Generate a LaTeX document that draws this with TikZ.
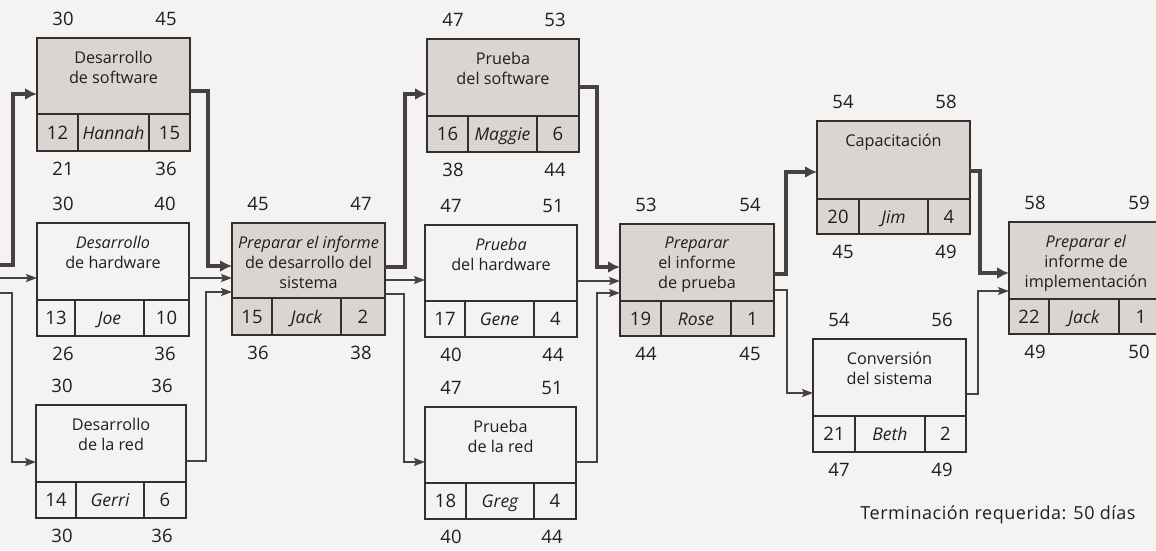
\documentclass[tikz,border=0pt]{standalone}
\usepackage{fontspec}
\setmainfont{Open Sans}
\usetikzlibrary{arrows.meta,calc}

\definecolor{paper}{HTML}{F4F3F1}
\definecolor{ink}{HTML}{221E1E}
\definecolor{framecol}{HTML}{332F2F}
\definecolor{critfill}{HTML}{D8D5D3}
\definecolor{wire}{HTML}{474242}

\tikzset{
  task/.style={draw=framecol, line width=2.6pt, inner sep=0pt, outer sep=0pt, rectangle},
  cellrule/.style={draw=framecol, line width=1.5pt},
  txt/.style={inner sep=0pt, text=ink, font=\fontsize{18.5}{20}\selectfont},
  num/.style={txt, text height=13pt, text depth=0pt},
  title/.style={txt, font=\fontsize{16.2}{20}\selectfont, align=center, anchor=north},
  who/.style={num, font=\fontsize{17.5}{20}\selectfont\itshape},
  critline/.style={draw=wire, line width=4pt, -{Latex[length=12pt,width=12pt]}},
  flowline/.style={draw=wire, line width=1.8pt, -{Stealth[length=11pt,width=8pt,inset=2pt]}},
}

% frame of an activity box: name, left, top, right, bottom, cell row top, two cell dividers, fill
\newcommand\taskframe[9]{%
  \node[task, fill=#9, minimum width={(#4-#2)*1pt}, minimum height={(#5-#3)*1pt}] (#1) at ({(#2+#4)/2},{(#3+#5)/2}) {};
  \coordinate (#1-rw) at (#2,#6);
  \coordinate (#1-re) at (#4,#6);
  \coordinate (#1-ca) at (#7,#6);
  \coordinate (#1-cb) at (#8,#6);
  \draw[cellrule] (#1-rw) -- (#1-re);
  \draw[cellrule] (#1-ca) -- (#1-ca |- #1.south);
  \draw[cellrule] (#1-cb) -- (#1-cb |- #1.south);
}
% activity name inside the upper part of a box
\newcommand\tasktitle[2]{%
  \node[title] (#1-name) at ($(#1.north)+(0,12.5)$) {#2};
}
% number, person in charge and duration in the lower cells
\newcommand\taskcells[4]{%
  \node[num] (#1-id) at ($(#1-rw)!0.5!(#1-ca |- #1.south)$) {#2};
  \node[who] (#1-who) at ($(#1-ca)!0.5!(#1-cb |- #1.south)$) {#3};
  \node[num] (#1-dur) at ($(#1-cb)!0.5!(#1.south east)$) {#4};
}
% early start/finish above the box, late start/finish below it
\newcommand\tasktimes[5]{%
  \node[num] (#1-es) at ($(#1.north west)+(26,-19)$) {#2};
  \node[num] (#1-ef) at ($(#1.north east)+(-24,-19)$) {#3};
  \node[num] (#1-ls) at ($(#1.south west)+(26,18)$) {#4};
  \node[num] (#1-lf) at ($(#1.south east)+(-24,18)$) {#5};
}

\begin{document}
\begin{tikzpicture}[x=1pt,y=-1pt]
\useasboundingbox (0,0) rectangle (1156,550);
\fill[paper] (0,0) rectangle (1156,550);
\clip (0,0) rectangle (1156,550);

% activity boxes
\taskframe{sw}{37}{38}{190}{151}{114}{78}{149}{critfill}
\taskframe{hw}{37}{223}{189}{336}{300}{75}{144}{paper}
\taskframe{net}{36}{405}{186}{518}{482}{76}{144}{paper}
\taskframe{rep1}{232}{223}{385}{335}{298}{272}{341}{critfill}
\taskframe{swt}{427}{39}{579}{152}{116}{468}{537}{critfill}
\taskframe{hwt}{425}{225}{577}{337}{301}{465}{534}{paper}
\taskframe{nett}{425}{407}{576}{519}{483}{466}{534}{paper}
\taskframe{rep2}{620}{224}{774}{336}{301}{661}{731}{critfill}
\taskframe{train}{817}{121}{970}{234}{199}{859}{928}{critfill}
\taskframe{impl}{1009}{222}{1163}{334}{299}{1049}{1119}{critfill}
\taskframe{conv}{813}{339}{966}{452}{416}{855}{925}{paper}

\tasktitle{sw}{Desarrollo\\de software}
\tasktitle{hw}{\textit{Desarrollo}\\de hardware}
\tasktitle{net}{Desarrollo\\de la red}
\tasktitle{rep1}{\textit{Preparar el informe}\\de desarrollo del\\sistema}
\tasktitle{swt}{Prueba\\del software}
\tasktitle{hwt}{\textit{Prueba}\\del hardware}
\tasktitle{nett}{Prueba\\de la red}
\tasktitle{rep2}{\textit{Preparar}\\el informe\\de prueba}
\tasktitle{train}{Capacitación}
\tasktitle{impl}{\textit{Preparar el}\\informe de\\implementación}
\tasktitle{conv}{Conversión\\del sistema}

\taskcells{sw}{12}{Hannah}{15}
\taskcells{hw}{13}{Joe}{10}
\taskcells{net}{14}{Gerri}{6}
\taskcells{rep1}{15}{Jack}{2}
\taskcells{swt}{16}{Maggie}{6}
\taskcells{hwt}{17}{Gene}{4}
\taskcells{nett}{18}{Greg}{4}
\taskcells{rep2}{19}{Rose}{1}
\taskcells{train}{20}{Jim}{4}
\taskcells{impl}{22}{Jack}{1}
\taskcells{conv}{21}{Beth}{2}

\tasktimes{sw}{30}{45}{21}{36}
\tasktimes{hw}{30}{40}{26}{36}
\tasktimes{net}{30}{36}{30}{36}
\tasktimes{rep1}{45}{47}{36}{38}
\tasktimes{swt}{47}{53}{38}{44}
\tasktimes{hwt}{47}{51}{40}{44}
\tasktimes{nett}{47}{51}{40}{44}
\tasktimes{rep2}{53}{54}{44}{45}
\tasktimes{train}{54}{58}{45}{49}
\tasktimes{impl}{58}{59}{49}{50}
\tasktimes{conv}{54}{56}{47}{49}

\node[num, font=\fontsize{18}{20}\selectfont\addfontfeatures{LetterSpace=3}] (deadline) at (998,513) {Terminación requerida: 50 días};

% incoming links from the preceding activities
\coordinate (inA) at (-5,265);
\coordinate (inB) at (-5,278);
\coordinate (inC) at (-5,293);

% critical path
\draw[critline] (inA) -- ++(18,0) |- (sw.west |- 0,94);
\draw[critline] (sw.east |- 0,91) -- ++(18,0) |- (rep1.west |- 0,266);
\draw[critline] (rep1.east |- 0,267) -- ++(20,0) |- (swt.west |- 0,94);
\draw[critline] (swt.east |- 0,87) -- ++(18,0) |- (rep2.west |- 0,267);
\draw[critline] (rep2.east |- 0,274) -- ++(12,0) |- (train.west |- 0,172);
\draw[critline] (train.east |- 0,171) -- ++(10,0) |- (impl.west |- 0,273);

% other dependencies
\draw[flowline] (inB) -- (hw.west |- inB);
\draw[flowline] (inC) -- ++(17,0) |- (net.west |- 0,462);
\draw[flowline] (hw.east |- 0,278) -- (rep1.west |- 0,278);
\draw[flowline] (net.east |- 0,461) -- ++(20,0) |- (rep1.west |- 0,292);
\draw[flowline] (rep1.east |- 0,280) -- (hwt.west |- 0,280);
\draw[flowline] (rep1.east |- 0,294) -- ++(19,0) |- (nett.west |- 0,462);
\draw[flowline] (hwt.east |- 0,281) -- (rep2.west |- 0,281);
\draw[flowline] (nett.east |- 0,462) -- ++(21,0) |- (rep2.west |- 0,293);
\draw[flowline] (rep2.east |- 0,290) -- ++(13,0) |- (conv.west |- 0,393);
\draw[flowline] (conv.east |- 0,394) -- ++(12,0) |- (impl.west |- 0,291);
\end{tikzpicture}
\end{document}
